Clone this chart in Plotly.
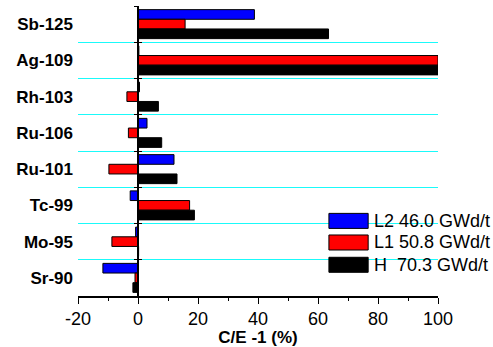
import plotly.graph_objects as go

categories = ["Sb-125", "Ag-109", "Rh-103", "Ru-106", "Ru-101", "Tc-99", "Mo-95", "Sr-90"]
series_names = ["L2 46.0 GWd/t", "L1 50.8 GWd/t", "H  70.3 GWd/t"]
series_colors = ["#0000FF", "#FF0000", "#000000"]
l2_values = [38.8, 0.3, 0.5, 3.0, 12.0, -2.6, -0.8, -11.7]
l1_values = [15.7, 100.0, -3.7, -3.2, -9.7, 17.2, -8.7, -1.0]
h_values = [63.5, 100.0, 6.8, 7.9, 13.0, 18.8, 0.2, -1.7]
x_tickvals = [-20, 0, 20, 40, 60, 80, 100]
x_ticktext = ["-20", "0", "20", "40", "60", "80", "100"]

series_values = [l2_values, l1_values, h_values]
pos = list(range(len(categories)))
boundaries = [p + 0.5 for p in pos[:-1]]
all_bounds = [p - 0.5 for p in pos] + [pos[-1] + 0.5]
yrange = [pos[-1] + 0.5, pos[0] - 0.5]

FONT = "Arial, Liberation Sans, sans-serif"

fig = go.Figure()
for name, color, vals in zip(series_names, series_colors, series_values):
    fig.add_trace(go.Bar(
        x=vals, y=pos, orientation="h", name=name,
        marker=dict(color=color, line=dict(color="#000000", width=1)),
        showlegend=False,
    ))

# helper axes: cyan separators, and the y line with crossing ticks at x = 0
for ax in ["y4", "y2", "y3"]:
    fig.add_trace(go.Scatter(x=[None], y=[None], yaxis=ax, showlegend=False, hoverinfo="skip"))

xmin, xmax = -20, 100
zero_frac = (0 - xmin) / (xmax - xmin)

fig.update_layout(
    template="none",
    width=493, height=347,
    margin=dict(l=78, r=55, t=6, b=51, autoexpand=False),
    paper_bgcolor="white", plot_bgcolor="white",
    barmode="group", bargap=0.2, bargroupgap=0,
    font=dict(family=FONT, color="black"),
    xaxis=dict(
        range=[xmin, xmax], tickvals=x_tickvals, ticktext=x_ticktext,
        showgrid=False, zeroline=False,
        showline=True, linecolor="black", linewidth=1.5,
        ticks="outside", ticklen=6, tickwidth=1.3, tickcolor="black",
        minor=dict(dtick=10, tick0=0, ticks="outside", ticklen=3, tickwidth=1.3, tickcolor="black", showgrid=False),
        tickfont=dict(size=18, family=FONT, color="black"),
        title=dict(text="C/E -1 (%)", font=dict(size=17, family=FONT, color="black", weight="bold"), standoff=2),
        automargin=False,
    ),
    yaxis=dict(
        range=yrange, tickvals=pos, ticktext=categories,
        showgrid=False, zeroline=False, showline=False, ticks="",
        tickfont=dict(size=17, family=FONT, color="black", weight="bold"),
        ticklabelstandoff=4,
        automargin=False,
    ),
    yaxis4=dict(
        overlaying="y", anchor="x", range=yrange,
        tickvals=boundaries, showticklabels=False, ticks="",
        showgrid=True, gridcolor="#1AFAFA", gridwidth=1,
        zeroline=False, showline=False,
    ),
    yaxis2=dict(
        overlaying="y", anchor="free", position=zero_frac, range=yrange,
        tickvals=all_bounds, showticklabels=False, showgrid=False, zeroline=False,
        showline=True, linecolor="black", linewidth=1.5,
        ticks="outside", ticklen=3, tickwidth=1.3, tickcolor="black",
    ),
    yaxis3=dict(
        overlaying="y", anchor="free", position=zero_frac, range=yrange,
        tickvals=all_bounds, showticklabels=False, showgrid=False, zeroline=False,
        showline=False, ticks="inside", ticklen=3, tickwidth=1.3, tickcolor="black",
    ),
)

# legend drawn as boxes + labels (paper coordinates)
box_x0, box_x1, text_x = 0.697, 0.806, 0.817
row_y = [0.259, 0.1845, 0.1076]
half_h = 0.0259
for name, color, yc in zip(series_names, series_colors, row_y):
    fig.add_shape(type="rect", xref="paper", yref="paper",
                  x0=box_x0, x1=box_x1, y0=yc - half_h, y1=yc + half_h,
                  fillcolor=color, line=dict(color="#000000", width=1))
    fig.add_annotation(xref="paper", yref="paper", x=text_x, y=yc,
                       xanchor="left", yanchor="middle", text=name, showarrow=False,
                       font=dict(size=18, family=FONT, color="black"))

fig.write_html("out.html")
